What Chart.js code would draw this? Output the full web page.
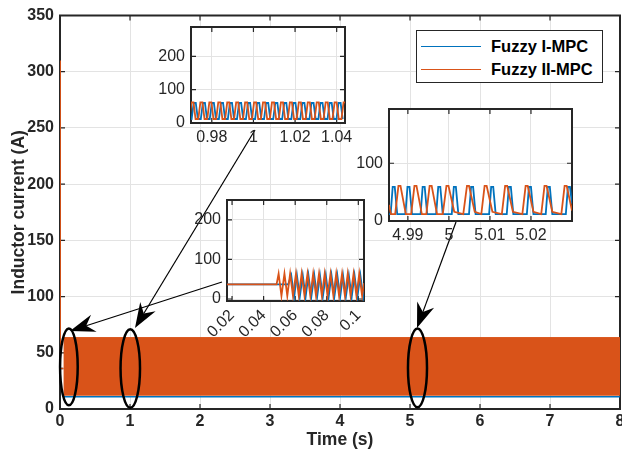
<!DOCTYPE html>
<html>
<head>
<meta charset="utf-8">
<script src="https://cdn.jsdelivr.net/npm/chart.js@4/dist/chart.umd.min.js"></script>
<style>
  html, body { margin: 0; padding: 0; background: #fff; }
  #wrap { position: relative; width: 622px; height: 455px; overflow: hidden; font-family: "Liberation Sans", Arial, sans-serif; }
  canvas { position: absolute; }
  #legend { position: absolute; left: 416px; top: 30px; width: 187px; height: 53px; box-sizing: border-box;
            border: 1.5px solid #262626; background: #fff; }
  .row { position: absolute; left: 0; width: 100%; height: 20px; line-height: 20px;
         font-weight: bold; font-size: 16.5px; color: #000; white-space: nowrap; }
  .row i { position: absolute; left: 4px; top: 10px; width: 60px; border-top: 1px solid; }
  .row span { position: absolute; left: 74px; }
</style>
</head>
<body>
<div id="wrap">
  <canvas id="main" width="622" height="455" style="left:0;top:0"></canvas>
  <canvas id="z1"></canvas>
  <canvas id="z2"></canvas>
  <canvas id="z3"></canvas>
  <div id="legend">
    <div class="row" style="top:5px"><i style="border-color:#0072BD"></i><span>Fuzzy I-MPC</span></div>
    <div class="row" style="top:28px"><i style="border-color:#D95319"></i><span>Fuzzy II-MPC</span></div>
  </div>
</div>
<script>
const FONT = '"Liberation Sans", Arial, sans-serif';
const BLUE = '#0072BD', ORANGE = '#D95319', INK = '#262626', GRID = '#e3e3e3';

// main axes
const mainXTicks = [0, 1, 2, 3, 4, 5, 6, 7, 8];
const mainYTicks = [0, 50, 100, 150, 200, 250, 300, 350];

// start-up (before switching begins)
const startT = [0, 0.002, 0.004, 0.048];
const startOrange = [36, 310, 36, 36];
const startBlue = [36, 36, 36, 36];

// switching envelope, 0.048 s .. 8 s
const bandT = [0.048, 8];
const orangeHi = [63.5, 63.5];
const orangeLo = [12.3, 12.3];
const blueLo = [10.8, 10.8];

// zoom 1 : around t = 1 s
const z1XTicks = [0.98, 1, 1.02, 1.04];
const z1YTicks = [0, 100, 200];
const z1OrangeT = [
  0.9692, 0.9702, 0.9712, 0.9722, 0.9735, 0.9745, 0.9755, 0.9765, 0.9778, 0.9788, 0.9798, 0.9808,
  0.9821, 0.9831, 0.9841, 0.9851, 0.9864, 0.9874, 0.9884, 0.9894, 0.9907, 0.9917, 0.9927, 0.9937,
  0.9950, 0.9960, 0.9970, 0.9980, 0.9993, 1.0003, 1.0013, 1.0023, 1.0036, 1.0046, 1.0056, 1.0066,
  1.0079, 1.0089, 1.0099, 1.0109, 1.0122, 1.0132, 1.0142, 1.0152, 1.0165, 1.0175, 1.0185, 1.0195,
  1.0208, 1.0218, 1.0228, 1.0238, 1.0251, 1.0261, 1.0271, 1.0281, 1.0294, 1.0304, 1.0314, 1.0324,
  1.0337, 1.0347, 1.0357, 1.0367, 1.0380, 1.0390, 1.0400, 1.0410, 1.0423, 1.0433, 1.0443, 1.0453];
const z1OrangeY = [
  12, 62, 62, 12, 12, 62, 62, 12, 12, 62, 62, 12, 12, 62, 62, 12, 12, 62, 62, 12, 12, 62, 62, 12,
  12, 62, 62, 12, 12, 62, 62, 12, 12, 62, 62, 12, 12, 62, 62, 12, 12, 62, 62, 12, 12, 62, 62, 12,
  12, 62, 62, 12, 12, 62, 62, 12, 12, 62, 62, 12, 12, 62, 62, 12, 12, 62, 62, 12, 12, 62, 62, 12];
const z1BlueT = [
  0.9660, 0.9670, 0.9680, 0.9690, 0.9703, 0.9713, 0.9723, 0.9733, 0.9747, 0.9757, 0.9767, 0.9777,
  0.9790, 0.9800, 0.9810, 0.9820, 0.9834, 0.9844, 0.9854, 0.9864, 0.9877, 0.9887, 0.9897, 0.9907,
  0.9921, 0.9931, 0.9941, 0.9951, 0.9964, 0.9974, 0.9984, 0.9994, 1.0008, 1.0018, 1.0028, 1.0038,
  1.0051, 1.0061, 1.0071, 1.0081, 1.0095, 1.0105, 1.0115, 1.0125, 1.0138, 1.0148, 1.0158, 1.0168,
  1.0182, 1.0192, 1.0202, 1.0212, 1.0225, 1.0235, 1.0245, 1.0255, 1.0269, 1.0279, 1.0289, 1.0299,
  1.0312, 1.0322, 1.0332, 1.0342, 1.0356, 1.0366, 1.0376, 1.0386, 1.0399, 1.0409, 1.0419, 1.0429];
const z1BlueY = [
  12, 60, 60, 12, 12, 60, 60, 12, 12, 60, 60, 12, 12, 60, 60, 12, 12, 60, 60, 12, 12, 60, 60, 12,
  12, 60, 60, 12, 12, 60, 60, 12, 12, 60, 60, 12, 12, 60, 60, 12, 12, 60, 60, 12, 12, 60, 60, 12,
  12, 60, 60, 12, 12, 60, 60, 12, 12, 60, 60, 12, 12, 60, 60, 12, 12, 60, 60, 12, 12, 60, 60, 12];

// zoom 2 : around t = 5 s
const z2XTicks = [4.99, 5, 5.01, 5.02];
const z2YTicks = [0, 100];
const z2OrangeT = [4.9854, 4.9859, 4.9869, 4.9877, 4.9882, 4.9895, 4.9908, 4.9916, 4.9921, 4.9934, 4.9945,
  4.9953, 4.9958, 4.9971, 4.9985, 4.9994, 4.9999, 5.0013, 5.0035, 5.0044, 5.0049, 5.0063, 5.0079, 5.0087,
  5.0092, 5.0106, 5.0129, 5.0137, 5.0142, 5.0156, 5.0179, 5.0187, 5.0192, 5.0206, 5.0225, 5.0233, 5.0238,
  5.0252, 5.0274, 5.0282, 5.0287, 5.0300];
const z2OrangeY = [28, 12, 12, 61, 61, 12, 12, 61, 61, 12, 12, 61, 61, 12, 12, 61, 61, 16, 12, 61, 61,
  16, 12, 61, 61, 16, 12, 61, 61, 16, 12, 61, 61, 16, 12, 61, 61, 16, 12, 61, 61, 18];
const z2BlueT = [4.9854, 4.9858, 4.9863, 4.9868, 4.9874, 4.9894, 4.9899, 4.9904, 4.9910, 4.9931, 4.9936,
  4.9941, 4.9947, 4.9969, 4.9974, 4.9979, 4.9985, 5.0007, 5.0012, 5.0017, 5.0023, 5.0049, 5.0054, 5.0059,
  5.0065, 5.0098, 5.0103, 5.0108, 5.0114, 5.0141, 5.0146, 5.0151, 5.0157, 5.0190, 5.0195, 5.0200, 5.0206,
  5.0236, 5.0241, 5.0246, 5.0252, 5.0285, 5.0290, 5.0295, 5.0300];
const z2BlueY = [12, 12, 59, 59, 12, 12, 59, 59, 12, 12, 59, 59, 12, 12, 59, 59, 12, 12, 59, 59, 12,
  12, 59, 59, 12, 12, 59, 59, 12, 12, 59, 59, 12, 12, 59, 59, 12, 12, 59, 59, 12, 12, 59, 59, 30];

// zoom 3 : start of switching
const z3XTicks = [0.02, 0.04, 0.06, 0.08, 0.1];
const z3YTicks = [0, 100, 200];
const z3OrangeT = [0.0168, 0.0482, 0.0495, 0.0513, 0.0532, 0.0550, 0.0568, 0.0586, 0.0605, 0.0623, 0.0641,
  0.0659, 0.0678, 0.0696, 0.0714, 0.0732, 0.0751, 0.0769, 0.0787, 0.0805, 0.0824, 0.0842, 0.0860, 0.0878,
  0.0897, 0.0915, 0.0933, 0.0951, 0.0970, 0.0988, 0.1006, 0.1024, 0.1036];
const z3OrangeY = [37, 37, 64, 8, 64, 8, 64, 8, 64, 8, 64, 8, 64, 8, 64, 8, 64, 8, 64, 8, 64, 8,
  64, 8, 64, 8, 64, 8, 64, 8, 64, 8, 40];
const z3BlueT = [0.0168, 0.0556, 0.0575, 0.0593, 0.0611, 0.0629, 0.0648, 0.0666, 0.0684, 0.0702, 0.0721,
  0.0739, 0.0757, 0.0775, 0.0794, 0.0812, 0.0830, 0.0848, 0.0867, 0.0885, 0.0903, 0.0921, 0.0940, 0.0958,
  0.0976, 0.0994, 0.1013, 0.1031, 0.1036];
const z3BlueY = [37, 37, 60, 5, 60, 5, 60, 5, 60, 5, 60, 5, 60, 5, 60, 5, 60, 5, 60, 5, 60, 5,
  60, 5, 60, 5, 60, 5, 20];

Chart.defaults.font.family = FONT;

const pts = (xs, ys) => xs.map((x, i) => ({ x, y: ys[i] }));
const line = (data, color, w) => ({ data, borderColor: color, backgroundColor: color, borderWidth: w,
  pointRadius: 0, tension: 0, fill: false });

// white plot area, box and inward tick marks (matlab style)
const frame = {
  id: 'frame',
  beforeDraw(chart) {
    const { ctx, chartArea: a } = chart;
    ctx.save();
    ctx.fillStyle = '#fff';
    ctx.fillRect(a.left, a.top, a.width, a.height);
    ctx.restore();
  },
  beforeDatasetsDraw(chart) {
    const { ctx, chartArea: a, scales: { x, y } } = chart;
    const tl = 5;
    ctx.save();
    ctx.strokeStyle = INK;
    ctx.lineWidth = 1.2;
    ctx.beginPath();
    x.ticks.forEach(t => {
      const px = x.getPixelForValue(t.value);
      ctx.moveTo(px, a.bottom); ctx.lineTo(px, a.bottom - tl);
      ctx.moveTo(px, a.top); ctx.lineTo(px, a.top + tl);
    });
    y.ticks.forEach(t => {
      const py = y.getPixelForValue(t.value);
      ctx.moveTo(a.left, py); ctx.lineTo(a.left + tl, py);
      ctx.moveTo(a.right, py); ctx.lineTo(a.right - tl, py);
    });
    ctx.stroke();
    ctx.lineWidth = 2;
    ctx.strokeRect(a.left, a.top, a.width, a.height);
    ctx.restore();
  }
};

// ellipses + arrows pointing at the zoomed regions
const rings = [
  { t: 0.127, v: 37.5, dt: 0.126, dv: 34.2 },
  { t: 1.004, v: 36, dt: 0.139, dv: 34.9 },
  { t: 5.107, v: 36.5, dt: 0.136, dv: 35 }
];
const arrows = [
  { from: [222, 282], t: 0.143, v: 69.4 },
  { from: [255, 130], t: 1.071, v: 72 },
  { from: [456, 222], t: 5.1, v: 72 }
];
function arrow(ctx, fx, fy, tx, ty) {
  const ang = Math.atan2(ty - fy, tx - fx);
  const ux = Math.cos(ang), uy = Math.sin(ang), nx = -uy, ny = ux;
  const L = 25, W = 9, N = 17;
  ctx.beginPath();
  ctx.moveTo(fx, fy);
  ctx.lineTo(tx - N * ux, ty - N * uy);
  ctx.stroke();
  ctx.beginPath();
  ctx.moveTo(tx, ty);
  ctx.lineTo(tx - L * ux + W * nx, ty - L * uy + W * ny);
  ctx.lineTo(tx - N * ux, ty - N * uy);
  ctx.lineTo(tx - L * ux - W * nx, ty - L * uy - W * ny);
  ctx.closePath();
  ctx.fill();
}
const annot = {
  id: 'annot',
  afterDatasetsDraw(chart) {
    const { ctx, scales: { x, y } } = chart;
    ctx.save();
    ctx.strokeStyle = '#000';
    ctx.fillStyle = '#000';
    ctx.lineWidth = 2.5;
    rings.forEach(r => {
      const cx = x.getPixelForValue(r.t), cy = y.getPixelForValue(r.v);
      const rx = x.getPixelForValue(r.t + r.dt) - cx;
      const ry = cy - y.getPixelForValue(r.v + r.dv);
      ctx.beginPath();
      ctx.ellipse(cx, cy, rx, ry, 0, 0, Math.PI * 2);
      ctx.stroke();
    });
    ctx.lineWidth = 1.2;
    arrows.forEach(a => arrow(ctx, a.from[0], a.from[1], x.getPixelForValue(a.t), y.getPixelForValue(a.v)));
    ctx.restore();
  }
};

const tickFontB = { size: 16, weight: 'bold' };
const titleFont = { size: 17.5, weight: 'bold' };

new Chart(document.getElementById('main'), {
  type: 'line',
  data: {
    datasets: [
      Object.assign(line(pts(bandT, orangeHi), ORANGE, 1), { fill: '+1' }),
      line(pts(bandT, orangeLo), ORANGE, 1),
      line(pts(startT, startOrange), ORANGE, 1.5),
      line(pts(startT, startBlue), BLUE, 1.5),
      line(pts(bandT, blueLo), BLUE, 1.5)
    ]
  },
  options: {
    animation: false, responsive: false, events: [],
    layout: { padding: { top: 15.5, right: 2, left: 0, bottom: 0 } },
    plugins: { legend: { display: false }, tooltip: { enabled: false } },
    scales: {
      x: {
        type: 'linear', min: 0, max: 8,
        afterBuildTicks: s => { s.ticks = mainXTicks.map(v => ({ value: v })); },
        afterFit: s => { s.height = 46; s.paddingLeft = 0; s.paddingRight = 0; },
        grid: { color: GRID, drawTicks: false }, border: { display: false },
        ticks: { autoSkip: false, maxRotation: 0, padding: 3, color: INK, font: tickFontB },
        title: { display: true, text: 'Time (s)', color: INK, font: titleFont, padding: { top: 0, bottom: 4 } }
      },
      y: {
        type: 'linear', min: 0, max: 350,
        afterBuildTicks: s => { s.ticks = mainYTicks.map(v => ({ value: v })); },
        afterFit: s => { s.width = 60; s.paddingTop = 0; s.paddingBottom = 0; },
        grid: { color: GRID, drawTicks: false }, border: { display: false },
        ticks: { autoSkip: false, padding: 6, color: INK, font: tickFontB },
        title: { display: true, text: 'Inductor current (A)', color: INK, font: titleFont, padding: { top: 9, bottom: 0 } }
      }
    }
  },
  plugins: [frame, annot]
});

function inset(id, box, xr, xt, yr, yt, orange, blue, rot) {
  const yW = 44, padT = 8, padR = 12, xH = rot ? 56 : 30;
  const c = document.getElementById(id);
  c.width = yW + box.w + padR;
  c.height = padT + box.h + xH;
  c.style.left = (box.l - yW) + 'px';
  c.style.top = (box.t - padT) + 'px';
  const tickFont = { size: 16 };
  new Chart(c, {
    type: 'line',
    data: { datasets: [line(orange, ORANGE, 1.8), line(blue, BLUE, 1.8)] },
    options: {
      animation: false, responsive: false, events: [],
      layout: { padding: { top: padT, right: padR, left: 0, bottom: 0 } },
      plugins: { legend: { display: false }, tooltip: { enabled: false } },
      scales: {
        x: {
          type: 'linear', min: xr[0], max: xr[1],
          afterBuildTicks: s => { s.ticks = xt.map(v => ({ value: v })); },
          afterFit: s => { s.height = xH; s.paddingLeft = 0; s.paddingRight = 0; },
          grid: { color: GRID, drawTicks: false }, border: { display: false },
          ticks: { autoSkip: false, minRotation: rot ? 45 : 0, maxRotation: rot ? 45 : 0, padding: 5,
                   color: INK, font: tickFont, callback: v => String(v) }
        },
        y: {
          type: 'linear', min: yr[0], max: yr[1],
          afterBuildTicks: s => { s.ticks = yt.map(v => ({ value: v })); },
          afterFit: s => { s.width = yW; s.paddingTop = 0; s.paddingBottom = 0; },
          grid: { color: GRID, drawTicks: false }, border: { display: false },
          ticks: { autoSkip: false, padding: 6, color: INK, font: tickFont, callback: v => String(v) }
        }
      }
    },
    plugins: [frame]
  });
}

inset('z1', { l: 191, t: 27, w: 154, h: 96 }, [0.970, 1.044], z1XTicks, [0, 288], z1YTicks,
  pts(z1OrangeT, z1OrangeY), pts(z1BlueT, z1BlueY), false);
inset('z2', { l: 389, t: 109, w: 183, h: 112 }, [4.9854, 5.0300], z2XTicks, [0, 194], z2YTicks,
  pts(z2OrangeT, z2OrangeY), pts(z2BlueT, z2BlueY), false);
inset('z3', { l: 227, t: 200, w: 137, h: 101 }, [0.0168, 0.1036], z3XTicks, [-5, 250], z3YTicks,
  pts(z3OrangeT, z3OrangeY), pts(z3BlueT, z3BlueY), true);
</script>
</body>
</html>
